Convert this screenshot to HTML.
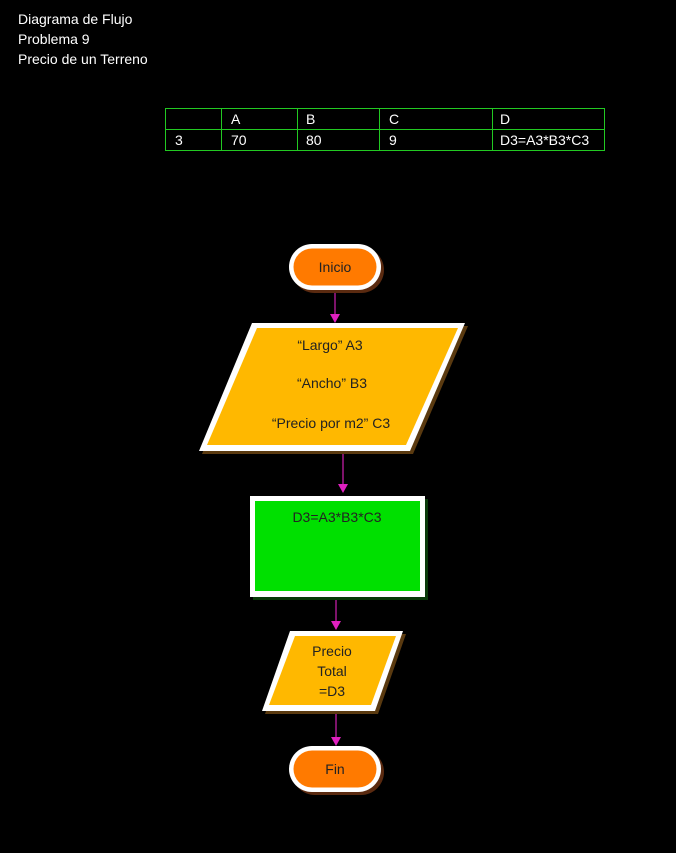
<!DOCTYPE html>
<html><head><meta charset="utf-8"><style>
html,body{margin:0;padding:0;background:#000;width:676px;height:853px;overflow:hidden}
svg{display:block}
text{font-family:"Liberation Sans",sans-serif;font-size:14px}
</style></head><body>
<svg width="676" height="853" viewBox="0 0 676 853" xmlns="http://www.w3.org/2000/svg">
<rect width="676" height="853" fill="#000"/>
<g fill="#fff">
<text x="18" y="24">Diagrama de Flujo</text>
<text x="18" y="44">Problema 9</text>
<text x="18" y="64">Precio de un Terreno</text>
</g>
<g stroke="#22c922" stroke-width="1" fill="none">
<rect x="165.5" y="108.5" width="439" height="42"/>
<line x1="165" y1="129.5" x2="605" y2="129.5"/>
<line x1="221.5" y1="108" x2="221.5" y2="151"/>
<line x1="297.5" y1="108" x2="297.5" y2="151"/>
<line x1="379.5" y1="108" x2="379.5" y2="151"/>
<line x1="492.5" y1="108" x2="492.5" y2="151"/>
</g>
<g fill="#fff">
<text x="231" y="124">A</text><text x="306" y="124">B</text><text x="389" y="124">C</text><text x="500" y="124">D</text>
<text x="175" y="145">3</text><text x="231" y="145">70</text><text x="306" y="145">80</text><text x="389" y="145">9</text><text x="500" y="145">D3=A3*B3*C3</text>
</g>
<g stroke="#d020b0" stroke-width="1.2">
<line x1="335" y1="290" x2="335" y2="316"/>
<line x1="343" y1="452" x2="343" y2="486"/>
<line x1="336" y1="597" x2="336" y2="622"/>
<line x1="336" y1="711" x2="336" y2="738"/>
</g>
<g fill="#e020c0">
<polygon points="330,314 340,314 335,323"/>
<polygon points="338,484 348,484 343,493"/>
<polygon points="331,621 341,621 336,630"/>
<polygon points="331,737 341,737 336,746"/>
</g>
<!-- Inicio -->
<rect x="292" y="247" width="92" height="46" rx="23" fill="#5a2a10"/>
<rect x="289" y="244" width="92" height="46" rx="23" fill="#fff"/>
<rect x="293.5" y="248.5" width="83" height="37" rx="18.5" fill="#ff7a00"/>
<text x="335" y="272" text-anchor="middle" fill="#222">Inicio</text>
<!-- Par 1 -->
<polygon points="255,326 468,326 413,454 202,454" fill="#5a3a10"/>
<polygon points="252,323 465,323 410,451 199,451" fill="#fff"/>
<polygon points="257,328 458,328 406,445 207,445" fill="#ffb800"/>
<g fill="#222" text-anchor="middle">
<text x="330" y="350">“Largo” A3</text>
<text x="332" y="388">“Ancho” B3</text>
<text x="331" y="428">“Precio por m2” C3</text>
</g>
<!-- rect -->
<rect x="253" y="499" width="175" height="101" fill="#0a3a0a"/>
<rect x="250" y="496" width="175" height="101" fill="#fff"/>
<rect x="255" y="501" width="165" height="90" fill="#00e000"/>
<text x="337" y="522" text-anchor="middle" fill="#222">D3=A3*B3*C3</text>
<!-- Par 2 -->
<polygon points="293,634 406,634 378,714 265,714" fill="#5a3a10"/>
<polygon points="290,631 403,631 375,711 262,711" fill="#fff"/>
<polygon points="295,636 396,636 371,705 269,705" fill="#ffb800"/>
<g fill="#222" text-anchor="middle">
<text x="332" y="656">Precio</text>
<text x="332" y="676">Total</text>
<text x="332" y="696">=D3</text>
</g>
<!-- Fin -->
<rect x="292" y="749" width="92" height="46" rx="23" fill="#5a2a10"/>
<rect x="289" y="746" width="92" height="46" rx="23" fill="#fff"/>
<rect x="293.5" y="750.5" width="83" height="37" rx="18.5" fill="#ff7a00"/>
<text x="335" y="774" text-anchor="middle" fill="#222">Fin</text>
</svg>
</body></html>
